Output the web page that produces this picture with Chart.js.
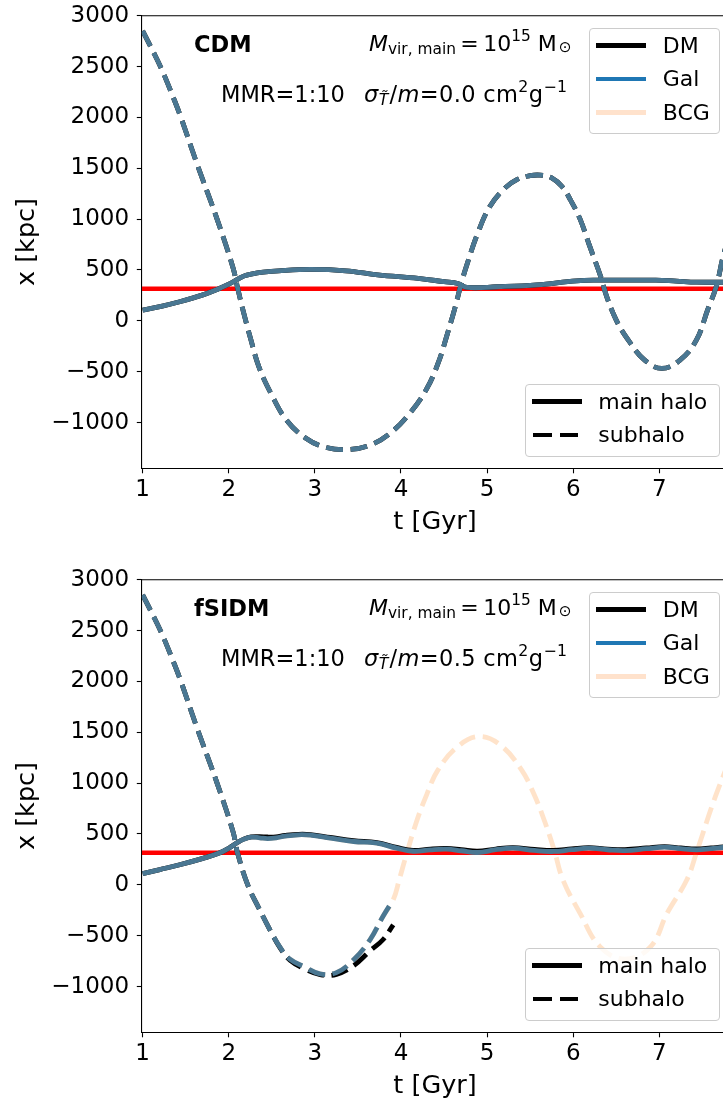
<!DOCTYPE html>
<html>
<head>
<meta charset="utf-8">
<script src="https://cdn.jsdelivr.net/npm/chart.js@4"></script>
<style>
  html, body { margin: 0; padding: 0; background: #fff; }
  body { width: 723px; height: 1101px; overflow: hidden; position: relative;
         font-family: "DejaVu Sans", sans-serif; color: #000; }
  .panel { position: absolute; left: 0; width: 740px; height: 564px; }
  .panel canvas { position: absolute; left: 0; top: 0; }
  .txt { position: absolute; font-size: 22.5px; line-height: 22.5px; white-space: nowrap; }
  .txt sub, .txt sup { font-size: 70%; line-height: 0; }
  .txt sub { vertical-align: -0.22em; }
  .txt sup { vertical-align: 0.62em; }
  .txt sub.sun { vertical-align: -0.05em; margin-left: 2px; }
  .txt .ts { margin-right: 1px; }
  .mass { font-size: 22px; line-height: 22px; }
  .sig { letter-spacing: 0.35px; }
  .leg { position: absolute; box-sizing: border-box; border: 1px solid #cccccc;
         border-radius: 4px; background: rgba(255,255,255,0.8); }
  .lt { position: absolute; font-size: 22px; line-height: 22px; white-space: nowrap; }
  .ls { position: absolute; height: 4.6px; }
</style>
</head>
<body>

<div class="panel" style="top:0px">
  <canvas id="cdm" width="740" height="564"></canvas>
  <div class="txt" style="left:194px;top:33px;font-weight:bold">CDM</div>
  <div class="txt mass" style="left:369px;top:33.4px"><i>M</i><sub>vir, main</sub>&#8201;=&#8201;10<sup>15</sup> M<sub class="sun">⊙</sub></div>
  <div class="txt" style="left:221px;top:83px">MMR=1:10</div>
  <div class="txt sig" style="left:364px;top:83px"><i>σ</i><sub class="ts"><i>T̃</i></sub>/<i>m</i>=0.0 cm<sup>2</sup>g<sup>−1</sup></div>

  <div class="leg" style="left:589px;top:27.7px;width:131px;height:106.6px"></div>
  <div class="ls" style="left:595.7px;top:43.4px;width:50px;background:#000"></div>
  <div class="ls" style="left:595.7px;top:76.7px;width:50px;background:#1f77b4"></div>
  <div class="ls" style="left:595.7px;top:110px;width:50px;background:#ffe2cc"></div>
  <div class="lt" style="left:662.7px;top:35.1px">DM</div>
  <div class="lt" style="left:662.7px;top:68.4px">Gal</div>
  <div class="lt" style="left:662.7px;top:101.7px">BCG</div>

  <div class="leg" style="left:525px;top:384px;width:195px;height:72.7px"></div>
  <div class="ls" style="left:531.7px;top:399.4px;width:50px;background:#000"></div>
  <div class="ls" style="left:533.3px;top:432.7px;width:18.4px;background:#000"></div>
  <div class="ls" style="left:560px;top:432.7px;width:18.4px;background:#000"></div>
  <div class="lt" style="left:598.3px;top:391.1px">main halo</div>
  <div class="lt" style="left:598.3px;top:424.4px">subhalo</div>
</div>

<div class="panel" style="top:564px">
  <canvas id="fsidm" width="740" height="564"></canvas>
  <div class="txt" style="left:194px;top:33px;font-weight:bold">fSIDM</div>
  <div class="txt mass" style="left:369px;top:33.4px"><i>M</i><sub>vir, main</sub>&#8201;=&#8201;10<sup>15</sup> M<sub class="sun">⊙</sub></div>
  <div class="txt" style="left:221px;top:83px">MMR=1:10</div>
  <div class="txt sig" style="left:364px;top:83px"><i>σ</i><sub class="ts"><i>T̃</i></sub>/<i>m</i>=0.5 cm<sup>2</sup>g<sup>−1</sup></div>

  <div class="leg" style="left:589px;top:27.7px;width:131px;height:106.6px"></div>
  <div class="ls" style="left:595.7px;top:43.4px;width:50px;background:#000"></div>
  <div class="ls" style="left:595.7px;top:76.7px;width:50px;background:#1f77b4"></div>
  <div class="ls" style="left:595.7px;top:110px;width:50px;background:#ffe2cc"></div>
  <div class="lt" style="left:662.7px;top:35.1px">DM</div>
  <div class="lt" style="left:662.7px;top:68.4px">Gal</div>
  <div class="lt" style="left:662.7px;top:101.7px">BCG</div>

  <div class="leg" style="left:525px;top:384px;width:195px;height:72.7px"></div>
  <div class="ls" style="left:531.7px;top:399.4px;width:50px;background:#000"></div>
  <div class="ls" style="left:533.3px;top:432.7px;width:18.4px;background:#000"></div>
  <div class="ls" style="left:560px;top:432.7px;width:18.4px;background:#000"></div>
  <div class="lt" style="left:598.3px;top:391.1px">main halo</div>
  <div class="lt" style="left:598.3px;top:424.4px">subhalo</div>
</div>

<script>
// ---- axis ranges and tick values ----
const T_MIN = 0.99, T_MAX = 7.8;
const X_MIN = -1450, X_MAX = 3000;
const tTicks = [1, 2, 3, 4, 5, 6, 7];
const xTicks = [-1000, -500, 0, 500, 1000, 1500, 2000, 2500, 3000];

// reference radius (horizontal red line), kpc
const rRef = 315;

// ---- CDM run: x-position [kpc] vs t [Gyr] ----
const tMainCDM = [1.0, 1.2, 1.43, 1.7, 1.89, 2.0, 2.1, 2.18, 2.26, 2.4, 2.58, 2.95, 3.36, 3.73, 4.2, 4.5, 4.66, 4.77, 5.12, 5.58, 6.04, 6.3, 6.5, 6.96, 7.2, 7.43, 7.8];
const xMainCDM = [105, 140, 187, 255, 318, 360, 407, 442, 459, 478, 492, 505, 492, 452, 417, 385, 367, 328, 335, 354, 393, 400, 400, 400, 390, 380, 380];

const tSubCDM = [1.0, 1.12, 1.23, 1.33, 1.44, 1.63, 1.86, 2.05, 2.1, 2.165, 2.258, 2.35, 2.49, 2.67, 2.9, 3.13, 3.39, 3.64, 3.87, 4.1, 4.29, 4.43, 4.54, 4.63, 4.7, 4.77, 4.89, 5.03, 5.2, 5.35, 5.5, 5.62, 5.75, 5.87, 5.97, 6.08, 6.18, 6.32, 6.39, 6.5, 6.64, 6.83, 7.03, 7.24, 7.43, 7.56, 7.66, 7.74, 7.8];
const xSubCDM = [2850, 2650, 2455, 2250, 2010, 1545, 1010, 520, 334, 105, -190, -452, -714, -976, -1157, -1245, -1265, -1222, -1108, -911, -681, -419, -124, 138, 368, 564, 859, 1121, 1300, 1390, 1427, 1432, 1405, 1320, 1186, 1000, 761, 433, 236, 7, -190, -386, -468, -386, -190, 105, 334, 629, 800];

// ---- fSIDM run ----
const tMainSIDM = [1.0, 1.2, 1.43, 1.7, 1.89, 2.0, 2.1, 2.18, 2.26, 2.36, 2.45, 2.55, 2.65, 2.81, 2.95, 3.18, 3.45, 3.72, 3.95, 4.14, 4.34, 4.53, 4.7, 4.89, 5.1, 5.3, 5.55, 5.77, 5.98, 6.18, 6.4, 6.6, 6.85, 7.06, 7.25, 7.43, 7.6, 7.74, 7.8];
const xGalMainSIDM = [110, 150, 197, 260, 312, 360, 416, 450, 468, 462, 455, 462, 478, 492, 488, 459, 426, 410, 360, 330, 344, 350, 335, 318, 345, 360, 338, 328, 345, 360, 345, 337, 355, 370, 355, 344, 355, 367, 368];
const xDmMainSIDM  = [110, 150, 197, 260, 312, 360, 416, 452, 472, 474, 470, 472, 485, 497, 494, 466, 434, 416, 368, 338, 352, 357, 345, 330, 352, 365, 348, 338, 353, 366, 352, 346, 362, 376, 362, 352, 362, 372, 372];

const tSubSIDM = [1.0, 1.12, 1.23, 1.33, 1.44, 1.63, 1.86, 2.05, 2.1, 2.22, 2.35, 2.478, 2.6, 2.71, 2.87, 3.06, 3.25, 3.45, 3.64, 3.79, 3.91];
const xGalSubSIDM = [2850, 2650, 2455, 2250, 2010, 1545, 1010, 520, 320, 0, -230, -442, -620, -731, -803, -875, -863, -737, -541, -312, -147];
const xDmSubSIDM  = [2850, 2650, 2455, 2250, 2010, 1545, 1010, 520, 320, 0, -230, -442, -625, -742, -822, -882, -880, -795, -650, -540, -393];

const tBcgSubSIDM = [1.0, 1.12, 1.23, 1.33, 1.44, 1.63, 1.86, 2.05, 2.1, 2.22, 2.35, 2.478, 2.6, 2.71, 2.87, 3.06, 3.25, 3.45, 3.64, 3.79, 3.91, 3.98, 4.05, 4.18, 4.3, 4.43, 4.66, 4.91, 5.16, 5.4, 5.55, 5.67, 5.78, 5.88, 6.08, 6.31, 6.6, 6.9, 7.09, 7.32, 7.43, 7.61, 7.74, 7.8];
const xBcgSubSIDM = [2850, 2650, 2455, 2250, 2010, 1545, 1010, 520, 320, 0, -230, -442, -620, -731, -803, -875, -863, -737, -541, -312, -147, 50, 260, 620, 890, 1130, 1360, 1458, 1370, 1130, 880, 620, 340, 50, -280, -607, -730, -607, -280, 50, 312, 770, 1065, 1190];

// ---- styling ----
const COL_DM = '#000000';
const COL_GAL = '#4a7792';
const COL_BCG = 'rgba(255,127,14,0.22)';
const COL_REF = '#ff0000';
const LW = 4.8;
const DASH = [17, 7.5];

Chart.defaults.font.family = "'DejaVu Sans', sans-serif";
Chart.defaults.color = '#000';

function pts(ts, vs) { return ts.map((t, i) => ({ x: t, y: vs[i] })); }

function line(ts, vs, color, dashed, order) {
  return {
    data: pts(ts, vs),
    borderColor: color,
    borderWidth: LW,
    borderDash: dashed ? DASH : [],
    borderCapStyle: 'butt',
    pointRadius: 0,
    fill: false,
    tension: 0.4,
    order: order
  };
}

function refLine() {
  return {
    data: pts([T_MIN, T_MAX], [rRef, rRef]),
    borderColor: COL_REF,
    borderWidth: 4.5,
    pointRadius: 0,
    fill: false,
    order: 100
  };
}

// top and right spines of the axes box
const frame = {
  id: 'frame',
  afterDraw(chart) {
    const { ctx, chartArea: a } = chart;
    ctx.save();
    ctx.strokeStyle = '#000';
    ctx.lineWidth = 1.1;
    ctx.beginPath();
    ctx.moveTo(a.left, a.top);
    ctx.lineTo(a.right, a.top);
    ctx.lineTo(a.right, a.bottom);
    ctx.stroke();
    ctx.restore();
  }
};

function makePanel(id, datasets) {
  return new Chart(document.getElementById(id), {
    type: 'line',
    data: { datasets },
    plugins: [frame],
    options: {
      responsive: false,
      devicePixelRatio: 1,
      animation: false,
      events: [],
      layout: { padding: { top: 15.7, right: 11.8, bottom: 0, left: 0 } },
      plugins: { legend: { display: false }, tooltip: { enabled: false } },
      scales: {
        x: {
          type: 'linear',
          min: T_MIN, max: T_MAX,
          afterBuildTicks: s => { s.ticks = tTicks.map(v => ({ value: v })); },
          afterFit: s => { s.height = 95.7; s.paddingLeft = 0; s.paddingRight = 0; },
          ticks: { font: { size: 23 }, color: '#000', padding: 2.9, maxRotation: 0,
                   autoSkip: false, callback: v => String(v) },
          grid: { drawOnChartArea: false, drawTicks: true, tickLength: 5, tickColor: '#000', tickWidth: 1.1 },
          border: { display: true, color: '#000', width: 1.1 },
          title: { display: true, text: 't [Gyr]', font: { size: 25.5 }, color: '#000',
                   padding: { top: 0, bottom: 26.2 } }
        },
        y: {
          type: 'linear',
          min: X_MIN, max: X_MAX,
          afterBuildTicks: s => { s.ticks = xTicks.map(v => ({ value: v })); },
          afterFit: s => { s.width = 141.8; s.paddingTop = 0; s.paddingBottom = 0; },
          ticks: { font: { size: 23 }, color: '#000', padding: 7.7, autoSkip: false,
                   callback: v => (v < 0 ? '\u2212' + Math.abs(v) : String(v)) },
          grid: { drawOnChartArea: false, drawTicks: true, tickLength: 5, tickColor: '#000', tickWidth: 1.1 },
          border: { display: true, color: '#000', width: 1.1 },
          title: { display: true, text: 'x [kpc]', font: { size: 25.5 }, color: '#000',
                   padding: { top: 12.2, bottom: 0 } }
        }
      }
    }
  });
}

// CDM: DM, Gal and BCG tracks coincide
makePanel('cdm', [
  refLine(),
  line(tMainCDM, xMainCDM, COL_BCG, false, 60),
  line(tSubCDM, xSubCDM, COL_BCG, true, 59),
  line(tMainCDM, xMainCDM, COL_DM, false, 50),
  line(tSubCDM, xSubCDM, COL_DM, true, 49),
  line(tMainCDM, xMainCDM, COL_GAL, false, 40),
  line(tSubCDM, xSubCDM, COL_GAL, true, 39)
]);

// fSIDM: subhalo DM and galaxy disrupted near t = 3.9 Gyr, its BCG keeps orbiting
makePanel('fsidm', [
  refLine(),
  line(tMainSIDM, xGalMainSIDM, COL_BCG, false, 60),
  line(tBcgSubSIDM, xBcgSubSIDM, COL_BCG, true, 59),
  line(tMainSIDM, xDmMainSIDM, COL_DM, false, 50),
  line(tSubSIDM, xDmSubSIDM, COL_DM, true, 49),
  line(tMainSIDM, xGalMainSIDM, COL_GAL, false, 40),
  line(tSubSIDM, xGalSubSIDM, COL_GAL, true, 39)
]);
</script>
</body>
</html>
